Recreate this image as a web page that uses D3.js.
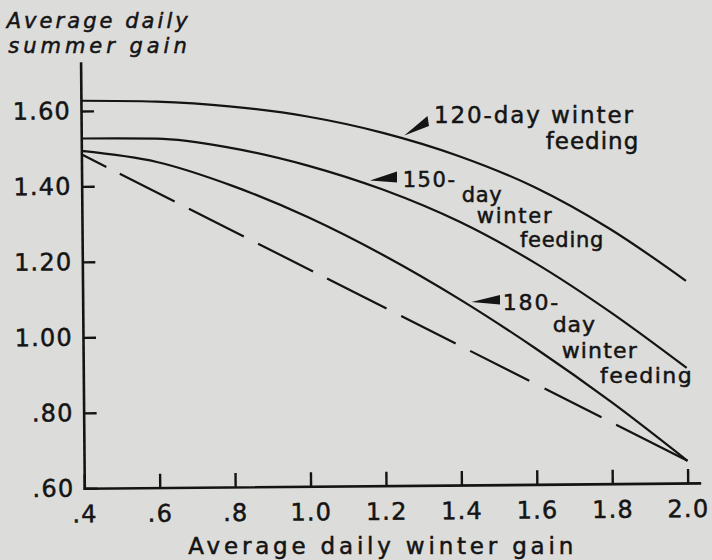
<!DOCTYPE html>
<html><head><meta charset="utf-8">
<script src="https://cdn.jsdelivr.net/npm/d3@7"></script>
<style>html,body{margin:0;padding:0;background:#dcdcda;} svg{display:block}</style>
</head><body>
<svg id="c" width="712" height="560"></svg>
<script>
// ---- data ----
const winterGain = [0.4, 0.6, 0.8, 1.0, 1.2, 1.4, 1.6, 1.8, 2.0];
const gain120 = [1.627, 1.623, 1.608, 1.580, 1.535, 1.472, 1.388, 1.275, 1.136];
const gain150 = [1.527, 1.525, 1.498, 1.450, 1.384, 1.298, 1.187, 1.054, 0.905];
const gain180 = [1.494, 1.463, 1.398, 1.313, 1.210, 1.092, 0.960, 0.816, 0.659];
const dashedX = [0.4, 2.0];
const dashedY = [1.485, 0.659];
const xTicks = [0.4, 0.6, 0.8, 1.0, 1.2, 1.4, 1.6, 1.8, 2.0];
const xTickLabels = [".4", ".6", ".8", "1.0", "1.2", "1.4", "1.6", "1.8", "2.0"];
const yTicks = [0.6, 0.8, 1.0, 1.2, 1.4, 1.6];
const yTickLabels = [".60", ".80", "1.00", "1.20", "1.40", "1.60"];

// ---- drawing ----
const ink = "#141414";
const font = "'DejaVu Sans', sans-serif";
const svg = d3.select("#c");
svg.append("rect").attr("width", 712).attr("height", 560).attr("fill", "#dcdcda");

const ox = 84.3, oy = 488.3;
const x = d3.scaleLinear().domain([0.4, 2.031]).range([ox, 699.4]);
const y = d3.scaleLinear().domain([0.6, 1.727]).range([oy, 63]);

const g = svg.append("g").attr("transform", `rotate(-0.5, ${ox}, ${oy})`);

const xAxis = d3.axisBottom(x).tickValues(xTicks)
  .tickFormat((d, i) => xTickLabels[i]).tickSizeInner(-14).tickSizeOuter(0).tickPadding(17);
const yAxis = d3.axisLeft(y).tickValues(yTicks)
  .tickFormat((d, i) => yTickLabels[i]).tickSizeInner(-13).tickSizeOuter(0).tickPadding(10);

function styleAxis(sel) {
  sel.select(".domain").attr("stroke", ink).attr("stroke-width", 2.6).attr("stroke-linecap", "square");
  sel.selectAll(".tick line").attr("stroke", ink).attr("stroke-width", 2.4);
  sel.selectAll(".tick text").attr("fill", ink).attr("stroke", ink).attr("stroke-width", 0.5)
    .style("font-family", font).style("font-size", "24px").style("letter-spacing", "1.2px");
  sel.attr("font-family", null).attr("font-size", null);
}
g.append("g").attr("transform", `translate(0,${oy})`).call(xAxis).call(styleAxis);
g.append("g").attr("transform", `translate(${ox},0)`).call(yAxis).call(styleAxis);

const line = d3.line().x(d => x(d[0])).y(d => y(d[1])).curve(d3.curveMonotoneX);
[gain120, gain150, gain180].forEach(s => {
  g.append("path").datum(winterGain.map((w, i) => [w, s[i]]))
    .attr("d", line).attr("fill", "none").attr("stroke", ink).attr("stroke-width", 2.2);
});
g.append("path").datum(dashedX.map((w, i) => [w, dashedY[i]]))
  .attr("d", d3.line().x(d => x(d[0])).y(d => y(d[1])))
  .attr("fill", "none").attr("stroke", ink).attr("stroke-width", 2.2)
  .attr("stroke-dasharray", "28 15 61.5 16 61.5 16 61.6 15.7 66.6 16.5 61 16.2 66.3 17.1 63.8 16.4 90");

// ---- annotation pointers ----
const wedges = [
  [[404.3, 135.5], [427.5, 116], [429, 126]],
  [[370, 180.5], [397, 171.5], [397, 182.5]],
  [[471.5, 302], [500, 295], [500, 304.5]]
];
wedges.forEach(p => svg.append("polygon").attr("points", p.map(q => q.join(",")).join(" ")).attr("fill", ink));

// ---- texts ----
function txt(s, px, py, len, size, italic) {
  svg.append("text").text(s).attr("x", px).attr("y", py)
    .attr("textLength", len).attr("lengthAdjust", "spacing")
    .attr("fill", ink).attr("stroke", ink).attr("stroke-width", 0.5)
    .style("font-family", font).style("font-size", size + "px")
    .style("font-style", italic ? "italic" : "normal");
}
txt("120-day winter", 434, 123.3, 199, 23);
txt("feeding", 545.7, 149.3, 92.6, 23);
txt("150-", 402.7, 186.7, 52.3, 21);
txt("day", 461.7, 201.7, 40, 21);
txt("winter", 476.7, 222.5, 75, 21);
txt("feeding", 520, 246.7, 83.3, 21);
txt("180-", 502.7, 310, 55.6, 22);
txt("day", 552.7, 331.7, 42.3, 22);
txt("winter", 561.7, 358.3, 75, 22);
txt("feeding", 600, 383.3, 91.7, 22);

txt("Average daily", 6.7, 28.3, 181, 21, true);
txt("summer gain", 8.3, 53.3, 178.4, 21, true);
txt("Average daily winter gain", 188.3, 554.3, 385, 23);
</script>
</body></html>
